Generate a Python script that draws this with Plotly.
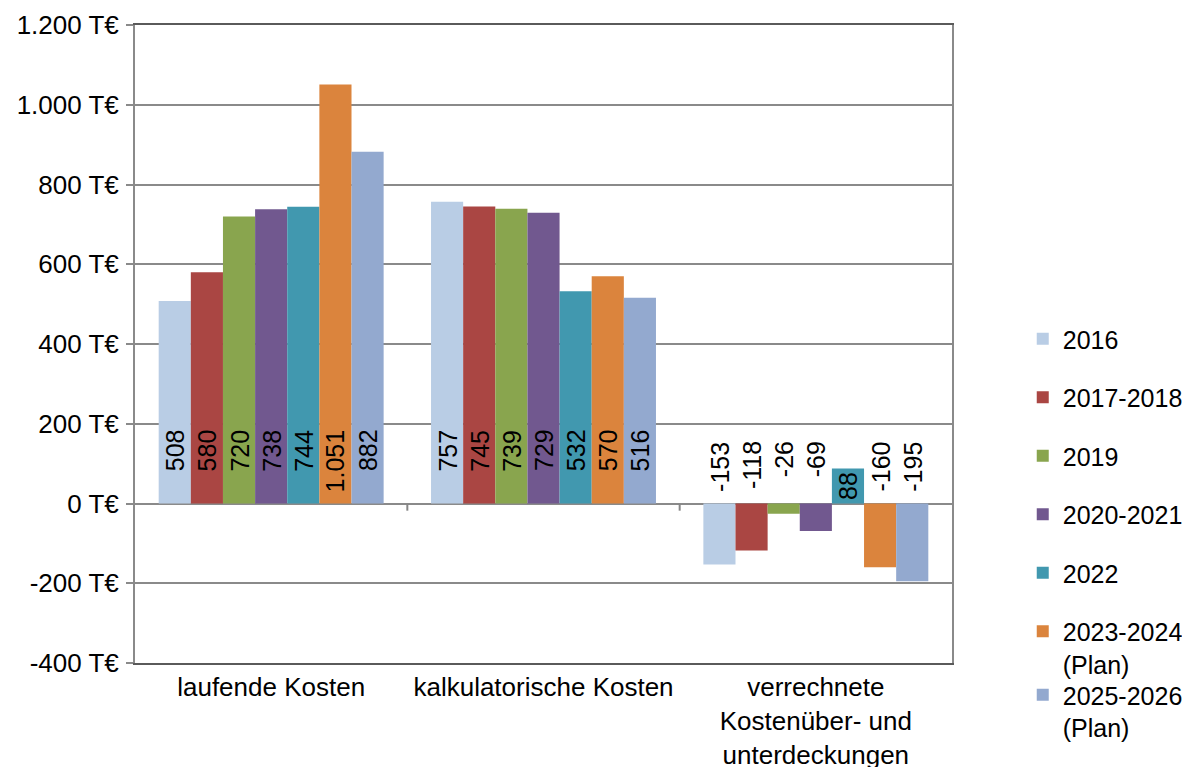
import plotly.graph_objects as go

categories = ["laufende Kosten", "kalkulatorische Kosten",
              "verrechnete<br>Kostenüber- und<br>unterdeckungen"]
series_names = ["2016", "2017-2018", "2019", "2020-2021", "2022",
                "2023-2024<br>(Plan)", "2025-2026<br>(Plan)"]
values = [
    [508, 757, -153],
    [580, 745, -118],
    [720, 739, -26],
    [738, 729, -69],
    [744, 532, 88],
    [1051, 570, -160],
    [882, 516, -195],
]
colors = ["#B9CDE5", "#AA4643", "#89A54E", "#71588F", "#4198AF", "#DB843D", "#93A9CF"]
y_ticks = [-400, -200, 0, 200, 400, 600, 800, 1000, 1200]


def de(v):
    return f"{v:,}".replace(",", ".")


FONT = "Liberation Sans, Arial, sans-serif"
FS = 26
LFS = 25
BARGAP = 0.174
n = len(series_names)
xs = list(range(len(categories)))

fig = go.Figure()
for i, (name, vals, col) in enumerate(zip(series_names, values, colors)):
    fig.add_trace(go.Bar(
        x=xs, y=vals, name=name, marker=dict(color=col, line=dict(width=0)),
        legend="legend2" if i == n - 1 else "legend",
        legendgroup=f"g{i}",
    ))

# data labels
w = (1 - BARGAP) / n
annotations = []
top_shift = [76, 76, 64]
for i, vals in enumerate(values):
    for c, v in enumerate(vals):
        xpos = c + (i - (n - 1) / 2) * w
        if 0 < v < 100:
            annotations.append(dict(x=xpos, y=v / 2, xref="x", yref="y", text=de(v),
                                    textangle=-90, showarrow=False, yanchor="middle",
                                    font=dict(family=FONT, size=25, color="black")))
        else:
            annotations.append(dict(x=xpos, y=0, xref="x", yref="y", text=de(v),
                                    textangle=-90, showarrow=False, yanchor="top",
                                    yshift=top_shift[c],
                                    font=dict(family=FONT, size=25, color="black")))

shapes = []
for b in [0.5, 1.5]:
    shapes.append(dict(type="line", xref="x", yref="y", x0=b, x1=b, y0=0, y1=-18,
                       line=dict(color="#868686", width=2)))

fig.update_layout(
    width=1182, height=759,
    margin=dict(l=127, r=238, t=17, b=104),
    paper_bgcolor="white", plot_bgcolor="white",
    barmode="group", bargap=BARGAP, bargroupgap=0,
    font=dict(family=FONT, size=FS, color="black"),
    annotations=annotations, shapes=shapes,
    legend=dict(xref="container", yref="container", x=0.8585, xanchor="left",
                y=1 - 308 / 759, yanchor="top",
                font=dict(family=FONT, size=LFS), tracegroupgap=23,
                valign="top", itemwidth=30, bgcolor="rgba(0,0,0,0)"),
    legend2=dict(xref="container", yref="container", x=0.8585, xanchor="left",
                 y=1 - 664 / 759, yanchor="top",
                 font=dict(family=FONT, size=LFS), valign="top", itemwidth=30,
                 bgcolor="rgba(0,0,0,0)"),
    xaxis=dict(range=[-0.5, 2.5], tickvals=xs, ticktext=categories,
               showgrid=False, zeroline=False, ticks="", automargin=False,
               ticklabelstandoff=0,
               showline=True, linecolor="#5a5a5a", linewidth=2, mirror=True,
               tickfont=dict(family=FONT, size=FS)),
    yaxis=dict(range=[-400, 1200], tickvals=y_ticks, ticktext=[de(t) + " T€" for t in y_ticks],
               showgrid=True, gridcolor="#8a8a8a", gridwidth=2, automargin=False,
               zeroline=True, zerolinecolor="#8a8a8a", zerolinewidth=2,
               ticks="outside", ticklen=7, tickcolor="#8a8a8a", tickwidth=2,
               ticklabelstandoff=2,
               showline=True, linecolor="#8a8a8a", linewidth=2, mirror=True,
               tickfont=dict(family=FONT, size=FS)),
)

fig.write_html("out.html")
